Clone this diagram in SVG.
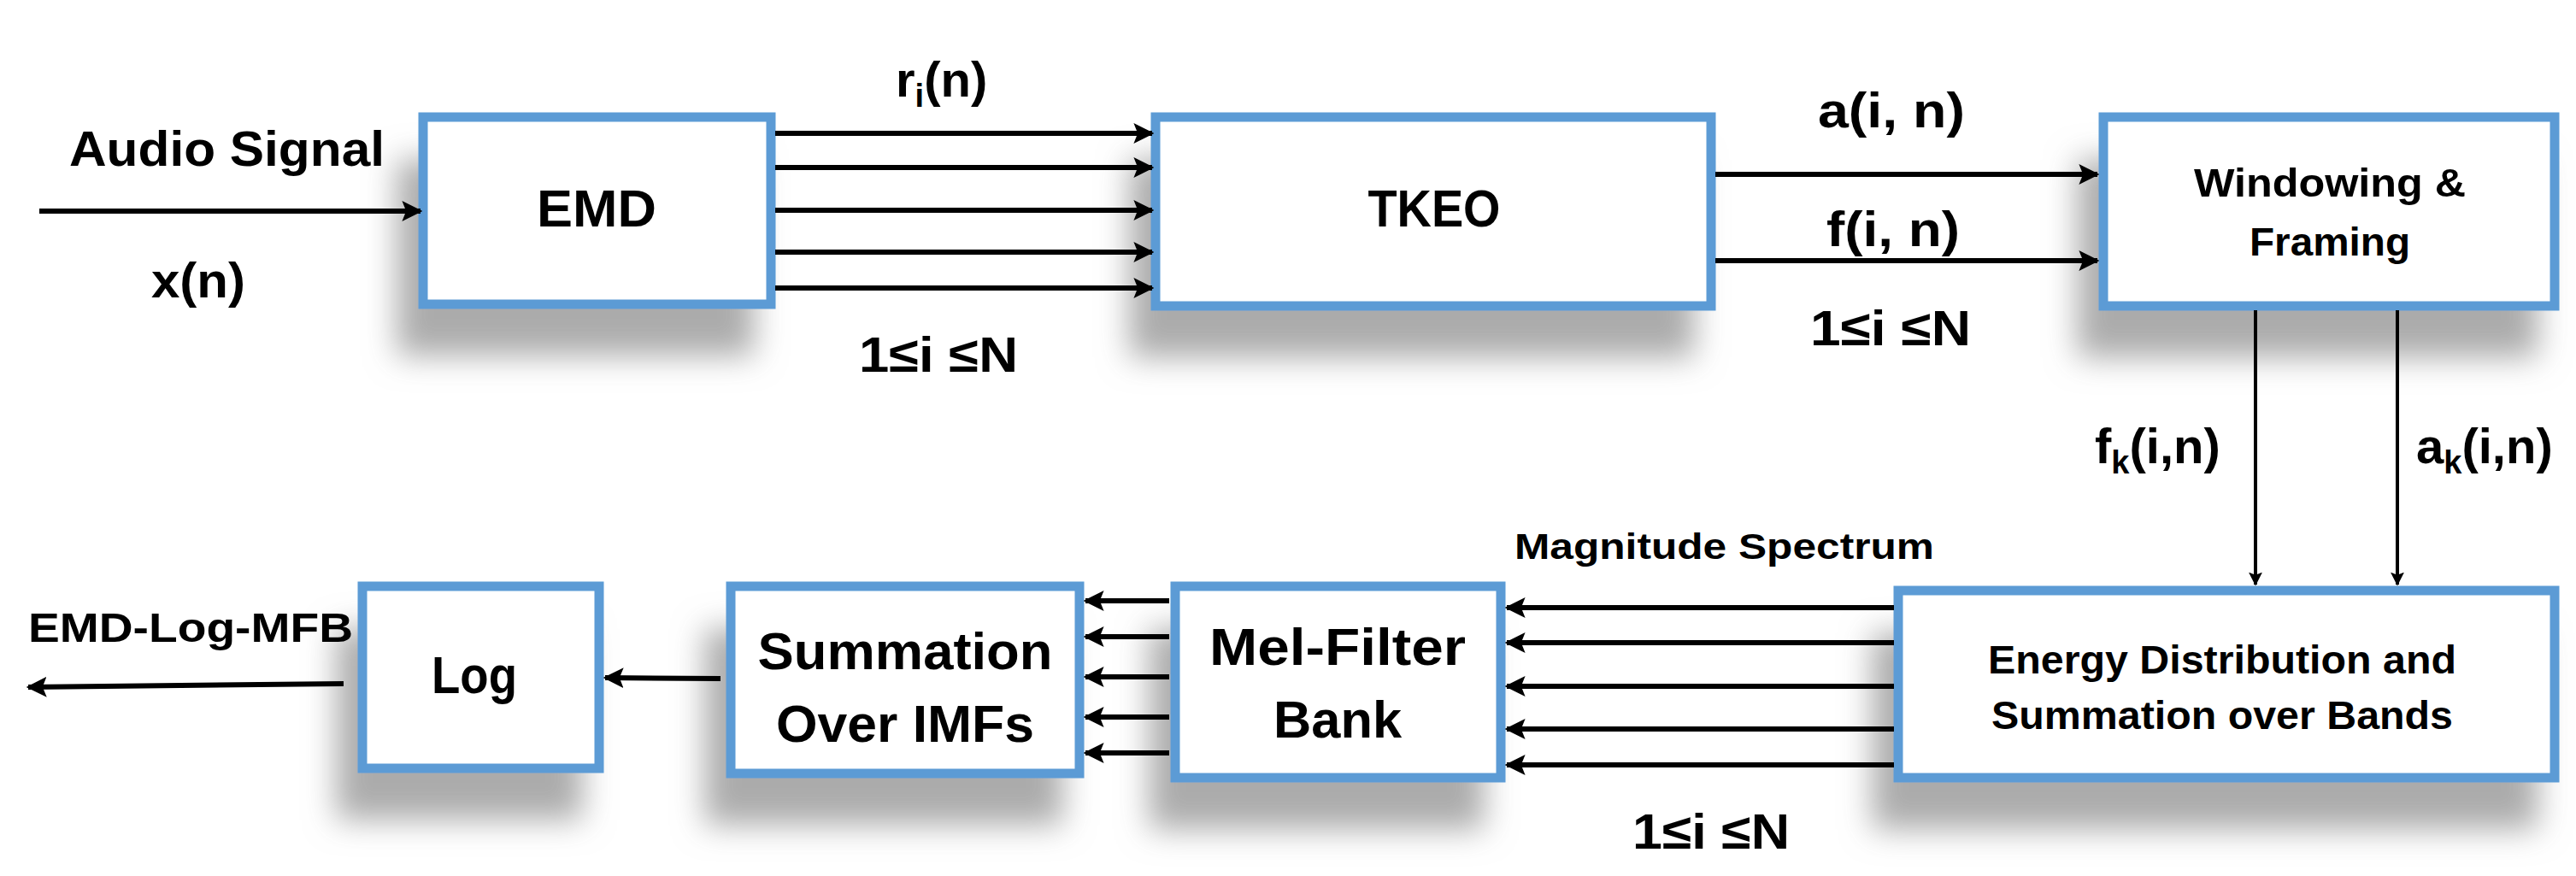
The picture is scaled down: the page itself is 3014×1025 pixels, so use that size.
<svg xmlns="http://www.w3.org/2000/svg" width="3014" height="1025" viewBox="0 0 3014 1025">
<style>
.box{fill:#fff;stroke:#5b9bd5;stroke-width:11}
.t{font-family:"Liberation Sans",Arial,sans-serif;font-weight:bold;fill:#000}
.c{stroke:#000;stroke-width:6;fill:none;marker-end:url(#ah)}
</style>
<defs>
<marker id="ah" viewBox="0 0 10 10" refX="9" refY="5" markerWidth="4" markerHeight="4" orient="auto" markerUnits="strokeWidth"><path d="M0,0 L10,5 L0,10 L2,5 z" fill="#000"/></marker>
<filter id="sh" x="-30%" y="-30%" width="160%" height="190%"><feDropShadow dx="-25" dy="55" stdDeviation="18" flood-color="#888" flood-opacity="0.7"/></filter>
</defs>
<rect width="3014" height="1025" fill="#fff"/>
<g id="emd"><rect class="box" x="495" y="137" width="407" height="219" filter="url(#sh)"/><text class="t" x="698" y="265" font-size="62" text-anchor="middle" textLength="140" lengthAdjust="spacingAndGlyphs">EMD</text></g>
<g id="tkeo"><rect class="box" x="1352" y="137" width="650" height="221" filter="url(#sh)"/><text class="t" x="1678" y="265" font-size="62" text-anchor="middle" textLength="155" lengthAdjust="spacingAndGlyphs">TKEO</text></g>
<g id="windowing"><rect class="box" x="2461" y="137" width="528" height="221" filter="url(#sh)"/><text class="t" x="2726" y="230" font-size="46" text-anchor="middle" textLength="318" lengthAdjust="spacingAndGlyphs">Windowing &amp;</text><text class="t" x="2726" y="299" font-size="46" text-anchor="middle" textLength="188" lengthAdjust="spacingAndGlyphs">Framing</text></g>
<g id="energy"><rect class="box" x="2221" y="691" width="768" height="219" filter="url(#sh)"/><text class="t" x="2600" y="788" font-size="46" text-anchor="middle" textLength="548" lengthAdjust="spacingAndGlyphs">Energy Distribution and</text><text class="t" x="2600" y="853" font-size="46" text-anchor="middle" textLength="540" lengthAdjust="spacingAndGlyphs">Summation over Bands</text></g>
<g id="mel"><rect class="box" x="1375" y="686" width="381" height="224" filter="url(#sh)"/><text class="t" x="1565" y="778" font-size="62" text-anchor="middle" textLength="300" lengthAdjust="spacingAndGlyphs">Mel-Filter</text><text class="t" x="1565" y="863" font-size="62" text-anchor="middle" textLength="150" lengthAdjust="spacingAndGlyphs">Bank</text></g>
<g id="summation"><rect class="box" x="855" y="686" width="408" height="219" filter="url(#sh)"/><text class="t" x="1059" y="783" font-size="62" text-anchor="middle" textLength="345" lengthAdjust="spacingAndGlyphs">Summation</text><text class="t" x="1059" y="868" font-size="62" text-anchor="middle" textLength="302" lengthAdjust="spacingAndGlyphs">Over IMFs</text></g>
<g id="log"><rect class="box" x="424" y="686" width="277" height="213" filter="url(#sh)"/><text class="t" x="555" y="811" font-size="62" text-anchor="middle" textLength="100" lengthAdjust="spacingAndGlyphs">Log</text></g>
<g id="connectors">
<line class="c" x1="46" y1="247" x2="492" y2="247"/>
<line class="c" x1="907" y1="156" x2="1348" y2="156"/>
<line class="c" x1="907" y1="196" x2="1348" y2="196"/>
<line class="c" x1="907" y1="246" x2="1348" y2="246"/>
<line class="c" x1="907" y1="295" x2="1348" y2="295"/>
<line class="c" x1="907" y1="337" x2="1348" y2="337"/>
<line class="c" x1="2007" y1="204" x2="2454" y2="204"/>
<line class="c" x1="2007" y1="305" x2="2454" y2="305"/>
<line class="c" x1="2639" y1="363" x2="2639" y2="684" style="stroke-width:4"/>
<line class="c" x1="2805" y1="363" x2="2805" y2="684" style="stroke-width:4"/>
<line class="c" x1="2216" y1="711" x2="1763" y2="711"/>
<line class="c" x1="2216" y1="752" x2="1763" y2="752"/>
<line class="c" x1="2216" y1="803" x2="1763" y2="803"/>
<line class="c" x1="2216" y1="853" x2="1763" y2="853"/>
<line class="c" x1="2216" y1="895" x2="1763" y2="895"/>
<line class="c" x1="1368" y1="703" x2="1270" y2="703"/>
<line class="c" x1="1368" y1="745" x2="1270" y2="745"/>
<line class="c" x1="1368" y1="792" x2="1270" y2="792"/>
<line class="c" x1="1368" y1="839" x2="1270" y2="839"/>
<line class="c" x1="1368" y1="881" x2="1270" y2="881"/>
<line class="c" x1="843" y1="794" x2="708" y2="793"/>
<line class="c" x1="402" y1="800" x2="33" y2="804"/>
</g>
<g id="labels">
<text class="t" x="81" y="194" font-size="58" textLength="369" lengthAdjust="spacingAndGlyphs">Audio Signal</text>
<text class="t" x="177" y="348" font-size="58" textLength="110" lengthAdjust="spacingAndGlyphs">x(n)</text>
<text class="t" x="1048" y="113" font-size="58">r<tspan font-size="38" dy="12">i</tspan><tspan dy="-12">(n)</tspan></text>
<text class="t" x="1005" y="435" font-size="58" textLength="186" lengthAdjust="spacingAndGlyphs">1≤i ≤N</text>
<text class="t" x="2127" y="149" font-size="58" textLength="172" lengthAdjust="spacingAndGlyphs">a(i, n)</text>
<text class="t" x="2137" y="288" font-size="58" textLength="156" lengthAdjust="spacingAndGlyphs">f(i, n)</text>
<text class="t" x="2118" y="404" font-size="58" textLength="188" lengthAdjust="spacingAndGlyphs">1≤i ≤N</text>
<text class="t" x="2451" y="542" font-size="58">f<tspan font-size="38" dy="12">k</tspan><tspan dy="-12">(i,n)</tspan></text>
<text class="t" x="2827" y="542" font-size="58">a<tspan font-size="38" dy="12">k</tspan><tspan dy="-12">(i,n)</tspan></text>
<text class="t" x="1772" y="654" font-size="42" textLength="491" lengthAdjust="spacingAndGlyphs">Magnitude Spectrum</text>
<text class="t" x="1910" y="993" font-size="58" textLength="184" lengthAdjust="spacingAndGlyphs">1≤i ≤N</text>
<text class="t" x="33" y="751" font-size="48" textLength="380" lengthAdjust="spacingAndGlyphs">EMD-Log-MFB</text>
</g>
</svg>
